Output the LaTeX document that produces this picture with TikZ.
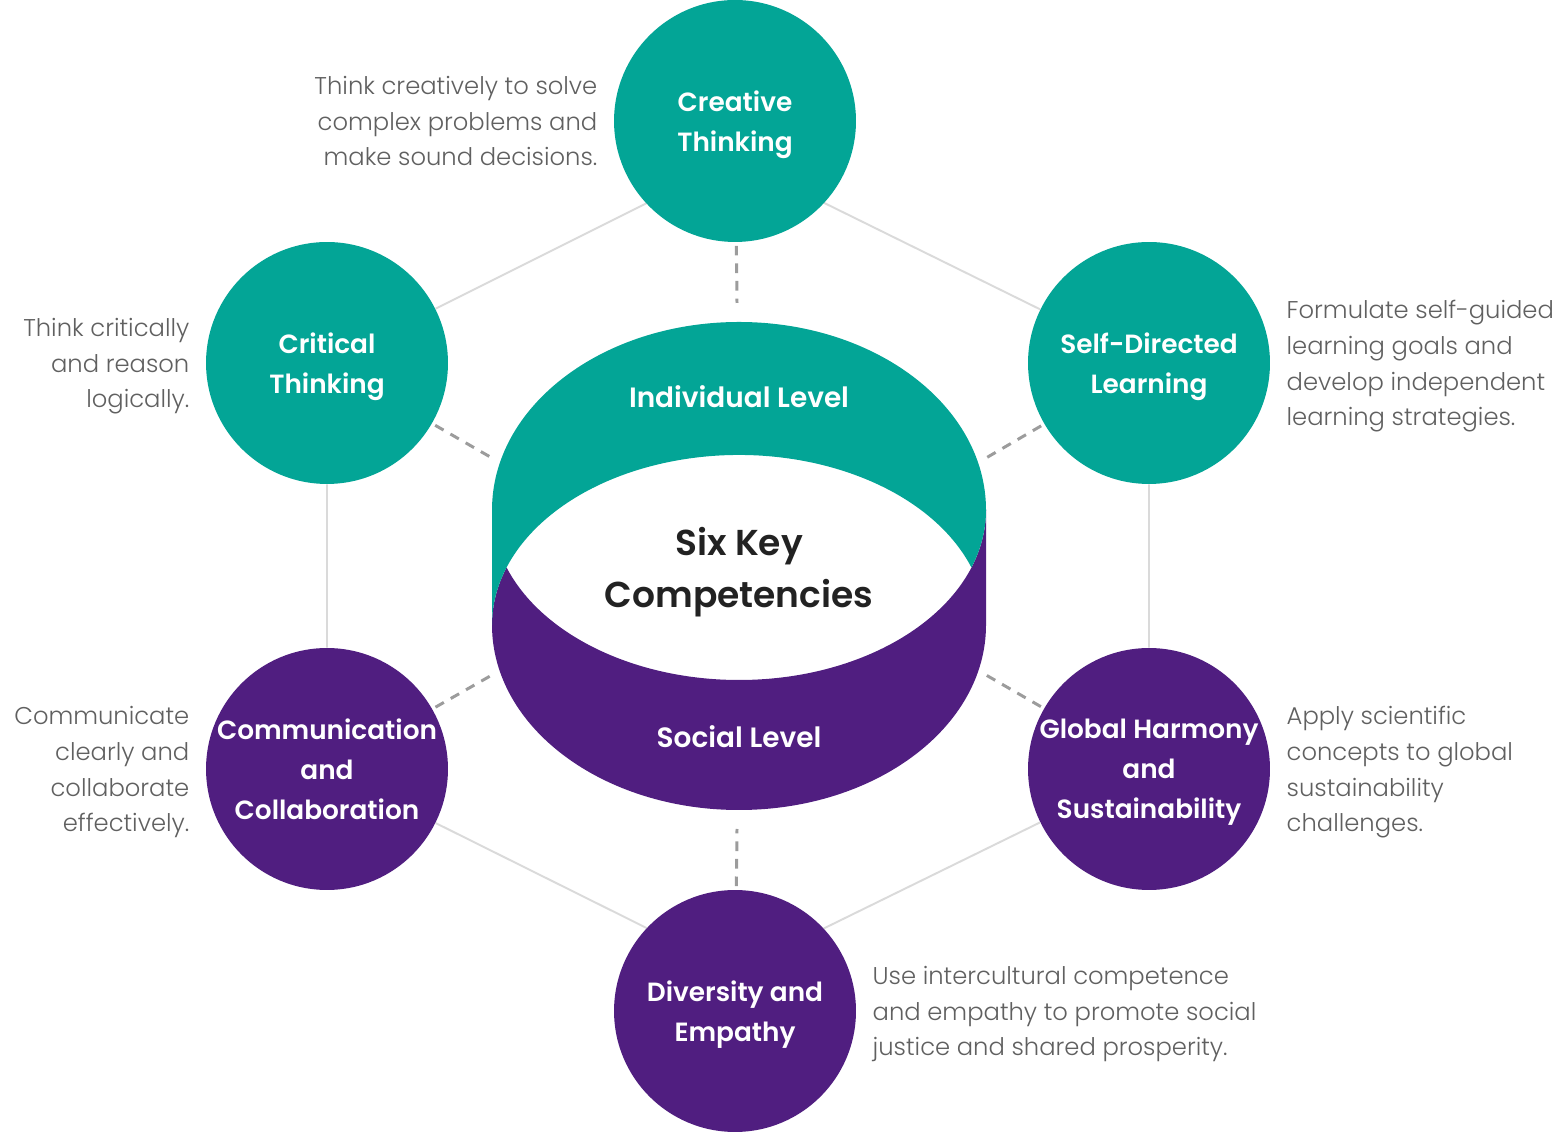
\documentclass[tikz,border=0pt]{standalone}
\usepackage{fontspec}
\setmainfont{Poppins}[UprightFont=* Light, BoldFont=* SemiBold]
\usetikzlibrary{positioning}
\definecolor{tealc}{HTML}{03A596}
\definecolor{purpc}{HTML}{501E80}
\definecolor{descc}{HTML}{606060}
\definecolor{hexc}{HTML}{DADADA}
\definecolor{dashc}{HTML}{9C9C9C}
\definecolor{corec}{HTML}{222222}

\begin{document}
\begin{tikzpicture}[x=0.02cm,y=0.02cm,node distance=0.32cm]%
  \tikzstyle{comp}=[circle,minimum size=4.84cm,inner sep=0,text=white,align=center,text depth=0pt,font=\bfseries\fontsize{15}{22.7}\selectfont]
  \tikzstyle{indiv}=[comp,fill=tealc]
  \tikzstyle{soc}=[comp,fill=purpc]
  \tikzstyle{desc}=[inner sep=0,text=descc,text depth=0pt,font=\fontsize{13.8}{20.4}\selectfont]
  \tikzstyle{lvl}=[text=white,font=\bfseries\fontsize{15.9}{22.7}\selectfont]
  \tikzstyle{hexline}=[draw=hexc,line width=1.1pt]
  \tikzstyle{dashline}=[draw=dashc,line width=1.7pt,dash pattern=on 5.5pt off 4.5pt,shorten <=2pt]
  \useasboundingbox (0,0) rectangle (1554,1132);
  % cylinder
  \fill[purpc] (492,507) arc[start angle=180,end angle=360,x radius=247,y radius=185] -- (986,622)
    arc[start angle=0,end angle=-160.23,x radius=247,y radius=170]
    arc[start angle=160.23,end angle=180,x radius=247,y radius=170] -- cycle;
  \fill[tealc] (492,507) -- (492,622) arc[start angle=180,end angle=0,x radius=247,y radius=188]
    arc[start angle=0,end angle=-19.77,x radius=247,y radius=170]
    arc[start angle=19.77,end angle=180,x radius=247,y radius=170] -- cycle;
  \node(indl)[lvl] at (739,735) {Individual Level};
  \node(socl)[lvl] at (739,395) {Social Level};
  \node(core)[text=corec,align=center,text depth=0pt,font=\bfseries\fontsize{20.5}{29.5}\selectfont] at (739,565) {Six Key\\Competencies};
  \coordinate(ecreat) at (737,829);
  \coordinate(ecrit) at (492,674);
  \coordinate(eself) at (986,674);
  \coordinate(ecomm) at (492,457);
  \coordinate(eglob) at (986,457);
  \coordinate(ediv) at (737,303);
  \coordinate(hcreat) at (735,973);
  \coordinate(hdiv) at (735,160);
  % competencies
  \node(crit)[indiv] at (327,769) {Critical\\Thinking};
  \node(self)[indiv] at (1149,769) {Self-Directed\\Learning};
  \node(comm)[soc] at (327,363) {Communication\\and\\Collaboration};
  \node(glob)[soc] at (1149,363) {Global Harmony\\and\\Sustainability};
  \draw[hexline] (hcreat) -- (crit) -- (comm) -- (hdiv) -- (glob) -- (self) -- (hcreat);
  \node(creat)[indiv] at (735,1011) {Creative\\Thinking};
  \node(div)[soc] at (735,121) {Diversity and\\Empathy};
  \node(creatd)[desc,left=of creat,align=right] {Think creatively to solve\\complex problems and\\make sound decisions.};
  \node(critd)[desc,left=of crit,align=right] {Think critically\\and reason\\logically.};
  \node(selfd)[desc,right=of self,align=left] {Formulate self-guided\\learning goals and\\develop independent\\learning strategies.};
  \node(commd)[desc,left=of comm,align=right] {Communicate\\clearly and\\collaborate\\effectively.};
  \node(globd)[desc,right=of glob,align=left] {Apply scientific\\concepts to global\\sustainability\\challenges.};
  \node(divd)[desc,right=of div,align=left] {Use intercultural competence\\and empathy to promote social\\justice and shared prosperity.};
  % links to the core
  \draw[dashline] (creat) -- (ecreat);
  \draw[dashline] (crit) -- (ecrit);
  \draw[dashline] (self) -- (eself);
  \draw[dashline] (comm) -- (ecomm);
  \draw[dashline] (glob) -- (eglob);
  \draw[dashline] (div) -- (ediv);
\end{tikzpicture}
\end{document}
